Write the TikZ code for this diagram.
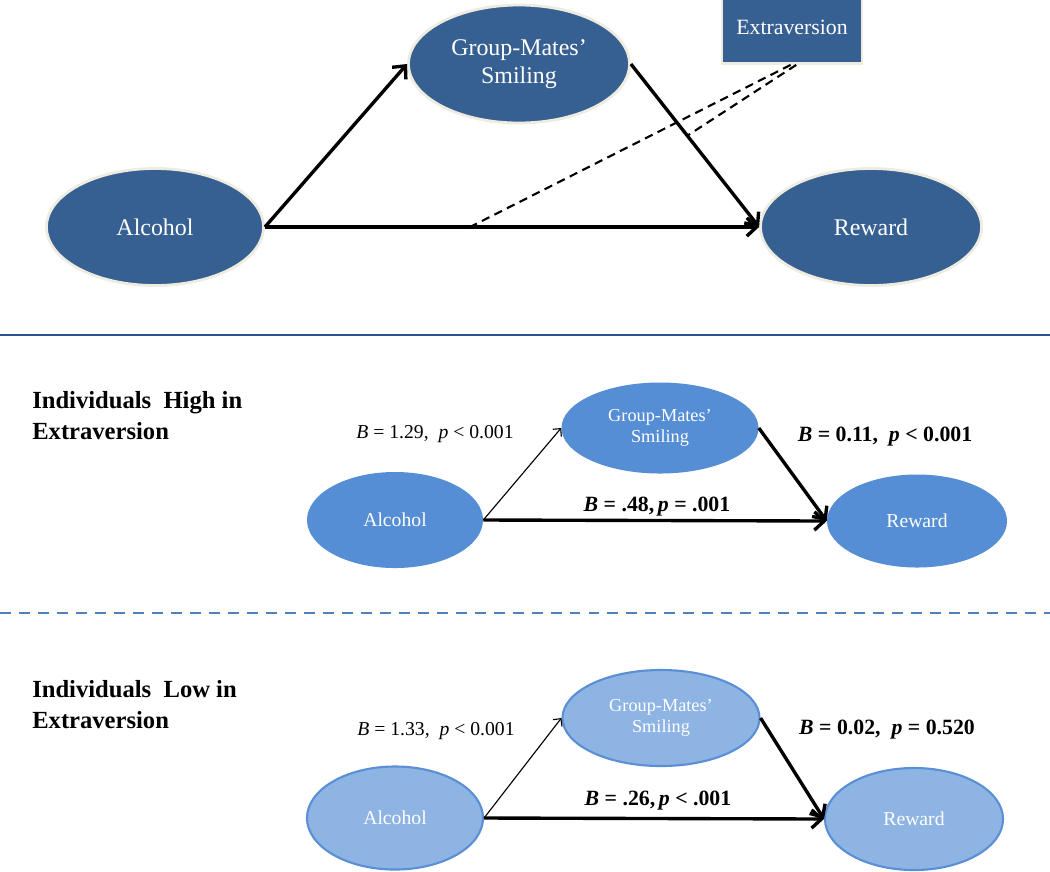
\documentclass[tikz,border=0pt]{standalone}
\usepackage{fontspec}
\setmainfont{Liberation Serif}
\usetikzlibrary{arrows.meta, shapes.geometric}
\definecolor{dkblue}{HTML}{376092}
\definecolor{mdblue}{HTML}{558ED5}
\definecolor{ltblue}{HTML}{8EB4E3}
\definecolor{rimblue}{HTML}{5A8FD6}
\definecolor{rim}{HTML}{EEECE1}
\definecolor{lineblue}{HTML}{2A5291}
\definecolor{dashblue}{HTML}{4F81BD}
\tikzset{%
    blk/.style={ellipse, inner sep=0pt, align=center, text=white},
    bla/.style={blk, fill=dkblue, draw=rim, line width=2pt, font=\fontsize{17}{20}\selectfont},
    blb/.style={blk, fill=mdblue, font=\fontsize{14}{16}\selectfont},
    blc/.style={blk, fill=ltblue, draw=rimblue, line width=1.5pt, font=\fontsize{14}{16}\selectfont},
    pria/.style={line width=2.4pt, -{Straight Barb[length=7pt, width=13pt]}},
    prib/.style={line width=2.4pt, -{Straight Barb[length=7pt, width=13pt]}},
    seca/.style={line width=0.8pt, -{Straight Barb[length=4pt, width=8pt]}},
    dsh/.style={line width=1.5pt, dash pattern=on 6pt off 4pt},
    lab/.style={inner sep=0pt, font=\fontsize{14}{16}\selectfont},
    labb/.style={inner sep=0pt, font=\bfseries\fontsize{15.5}{18}\selectfont},
    ttl/.style={inner sep=0pt, anchor=north west, align=left, font=\bfseries\fontsize{17.5}{22}\selectfont},
}
\begin{document}
\begin{tikzpicture}[x=0.025cm, y=-0.025cm]
    \useasboundingbox (0,0) rectangle (1050,871);
    % moderation model
    \node [bla, minimum width=5.425cm, minimum height=2.925cm] (alc1) at (155,227) {Alcohol};
    \node [bla, minimum width=5.525cm, minimum height=2.95cm] (grp1) at (519,64) {Group-Mates’\\Smiling};
    \node [bla, minimum width=5.525cm, minimum height=2.925cm] (rew1) at (871,227) {Reward};
    \node [rectangle, fill=dkblue, draw=rim, line width=2pt, text=white, font=\fontsize{15.5}{18}\selectfont, minimum width=3.5cm, minimum height=1.825cm] (ext) at (792,27) {Extraversion};
    \draw [pria] (alc1.east) -- coordinate[pos=0.415] (d1) (rew1.west);
    \draw [pria] (alc1.east) -- (grp1.west);
    \draw [pria] (grp1.east) -- coordinate[pos=0.44] (d2) (rew1.west);
    \draw [dsh] ([xshift=-1pt]ext.south) -- (d1);
    \draw [dsh] ([xshift=3pt]ext.south) -- (d2);
    \coordinate (l1) at (0,335);
    \coordinate (r1) at (1050,335);
    \draw [lineblue, line width=1.8pt] (l1) -- (r1);
    % high extraversion
    \node [ttl] (hi) at (32,391) {Individuals~ High in\\Extraversion};
    \node [blb, minimum width=4.4cm, minimum height=2.4cm] (alc2) at (395,520) {Alcohol};
    \node [blb, minimum width=4.925cm, minimum height=2.275cm, font=\fontsize{13}{15}\selectfont] (grp2) at (660,428) {Group-Mates’\\Smiling};
    \node [blb, minimum width=4.5cm, minimum height=2.325cm] (rew2) at (917,521) {Reward};
    \draw [seca] (alc2.east) -- (grp2.west);
    \draw [prib] (grp2.east) -- (rew2.west);
    \draw [prib] (alc2.east) -- (rew2.west);
    \node [lab] (a2) at (435,434) {\textit{B} = 1.29,~ \textit{p} < 0.001};
    \node [labb] (b2) at (885,437) {\textit{B} = 0.11,~ \textit{p} < 0.001};
    \node [labb] (c2) at (657,507) {\textit{B} = .48,\,\textit{p} = .001};
    \coordinate (l2) at (0,613);
    \coordinate (r2) at (1050,613);
    \draw [dashblue, line width=1.8pt, dash pattern=on 7.8pt off 5.7pt] (l2) -- (r2);
    % low extraversion
    \node [ttl] (lo) at (32,680) {Individuals~ Low in\\Extraversion};
    \node [blc, minimum width=4.4cm, minimum height=2.575cm] (alc3) at (395,818) {Alcohol};
    \node [blc, minimum width=4.925cm, minimum height=2.4cm, font=\fontsize{13}{15}\selectfont] (grp3) at (661,718) {Group-Mates’\\Smiling};
    \node [blc, minimum width=4.45cm, minimum height=2.55cm] (rew3) at (914,819) {Reward};
    \draw [seca] (alc3.east) -- (grp3.west);
    \draw [prib] (grp3.east) -- (rew3.west);
    \draw [prib] (alc3.east) -- (rew3.west);
    \node [lab] (a3) at (436,731) {\textit{B} = 1.33,~ \textit{p} < 0.001};
    \node [labb] (b3) at (887,730) {\textit{B} = 0.02,~ \textit{p} = 0.520};
    \node [labb] (c3) at (658,801) {\textit{B} = .26,\,\textit{p} < .001};
\end{tikzpicture}
\end{document}
